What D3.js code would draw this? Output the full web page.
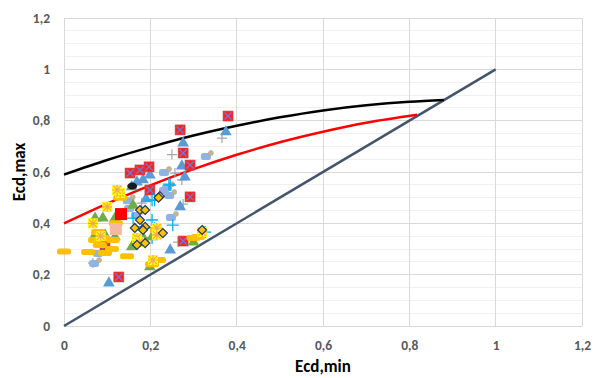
<!DOCTYPE html>
<html><head><meta charset="utf-8">
<script src="https://cdn.jsdelivr.net/npm/d3@7"></script>
<style>body{margin:0;background:#fff}svg{display:block}text{font-family:Carlito,Lato,"Liberation Sans",sans-serif}</style>
</head><body><div id="chart"></div>
<script>
// ---- data ----
const xTicks = [0, 0.2, 0.4, 0.6, 0.8, 1, 1.2];
const yTicks = [0, 0.2, 0.4, 0.6, 0.8, 1, 1.2];
const xTitle = "Ecd,min", yTitle = "Ecd,max";
const blackCurve = [[0,0.590],[0.1,0.647],[0.2,0.697],[0.3,0.742],[0.4,0.780],[0.5,0.813],[0.6,0.840],[0.7,0.860],[0.8,0.874],[0.88,0.881]];
const redCurve = [[0,0.400],[0.1,0.477],[0.2,0.548],[0.3,0.611],[0.4,0.667],[0.5,0.716],[0.6,0.757],[0.7,0.792],[0.818,0.823]];
const diagonal = [[0,0],[1,1]];
const redBoxes = [[0.127,0.191],[0.095,0.31],[0.153,0.596],[0.176,0.608],[0.197,0.62],[0.199,0.53],[0.269,0.764],[0.276,0.674],[0.292,0.627],[0.292,0.503],[0.276,0.331],[0.380,0.818]];
const blueTriangles = [[0.104,0.167],[0.157,0.542],[0.169,0.561],[0.183,0.569],[0.199,0.588],[0.19,0.495],[0.273,0.623],[0.276,0.713],[0.28,0.58],[0.269,0.464],[0.246,0.296],[0.375,0.756]];
const grayPlus = [[0.067,0.245],[0.18,0.479],[0.25,0.668],[0.257,0.596],[0.273,0.569],[0.276,0.475],[0.264,0.327],[0.366,0.732]];
const lightBlobs = [[0.072,0.245],[0.081,0.284],[0.153,0.46],[0.169,0.432],[0.234,0.6],[0.234,0.53],[0.246,0.51],[0.241,0.541],[0.25,0.425],[0.331,0.662],[0.15,0.49]];
const cyanPlus = [[0.16,0.42],[0.18,0.386],[0.204,0.49],[0.21,0.49],[0.204,0.413],[0.21,0.382],[0.204,0.343],[0.243,0.553],[0.246,0.549],[0.252,0.393],[0.327,0.366]];
const goldDiamonds = [[0.222,0.506],[0.219,0.5],[0.176,0.452],[0.188,0.452],[0.176,0.413],[0.188,0.386],[0.164,0.382],[0.183,0.374],[0.229,0.362],[0.188,0.323],[0.169,0.316],[0.32,0.374]];
const yellowStars = [[0.067,0.4],[0.1,0.464],[0.13,0.518],[0.123,0.53],[0.169,0.343],[0.174,0.327],[0.215,0.382],[0.215,0.355],[0.206,0.257],[0.32,0.366],[0.085,0.35]];
const greenTriangles = [[0.072,0.354],[0.095,0.354],[0.118,0.347],[0.072,0.42],[0.09,0.42],[0.118,0.42],[0.12,0.382],[0.16,0.47],[0.204,0.347],[0.199,0.23],[0.3,0.327],[0.157,0.308],[0.185,0.34]];
const goldDashes = [[0.0,0.29],[0.056,0.288],[0.072,0.335],[0.09,0.343],[0.083,0.316],[0.095,0.284],[0.111,0.3],[0.113,0.335],[0.146,0.272],[0.079,0.366],[0.204,0.241],[0.22,0.257],[0.3,0.343],[0.31,0.347],[0.13,0.50],[0.12,0.4],[0.215,0.373]];
const bigRed = [[0.132,0.436]];
const bigPink = [[0.12,0.378]];
const blackBlob = [[0.158,0.545]];

// ---- chart ----
const W = 596, H = 378;
const svg = d3.select("#chart").append("svg").attr("width", W).attr("height", H);
const x = d3.scaleLinear().domain([0, 1.2]).range([64, 582]);
const y = d3.scaleLinear().domain([0, 1.2]).range([326, 18]);
const fmt = d => d3.format("")(d).replace(".", ",");

// minor horizontal gridlines
svg.append("g").selectAll("line").data(d3.range(0, 1.2001, 0.05).filter((d,i) => i % 4 !== 0))
  .join("line").attr("x1", x(0)).attr("x2", x(1.2)).attr("y1", d => y(d)).attr("y2", d => y(d))
  .attr("stroke", "#f0f0f0").attr("stroke-width", 1).attr("shape-rendering", "crispEdges");
// major
svg.append("g").selectAll("line").data(yTicks).join("line")
  .attr("x1", x(0)).attr("x2", x(1.2)).attr("y1", d => y(d)).attr("y2", d => y(d))
  .attr("stroke", "#d9d9d9").attr("shape-rendering", "crispEdges");
svg.append("g").selectAll("line").data(xTicks).join("line")
  .attr("x1", d => x(d)).attr("x2", d => x(d)).attr("y1", y(0)).attr("y2", y(1.2))
  .attr("stroke", "#d9d9d9").attr("shape-rendering", "crispEdges");

// axes
const xAxis = svg.append("g").attr("transform", `translate(0,${y(0)})`)
  .call(d3.axisBottom(x).tickValues(xTicks).tickFormat(fmt).tickSize(0).tickPadding(14));
const yAxis = svg.append("g").attr("transform", `translate(${x(0)},0)`)
  .call(d3.axisLeft(y).tickValues(yTicks).tickFormat(fmt).tickSize(0).tickPadding(14));
[xAxis, yAxis].forEach(a => {
  a.select(".domain").attr("stroke", "#d9d9d9");
  a.selectAll("text").attr("fill", "#595959").attr("font-size", 13.5).attr("font-weight", 900);
});
svg.append("text").attr("x", 323).attr("y", 372).attr("text-anchor", "middle")
  .attr("font-size", 17).attr("font-weight", 900).attr("fill", "#000").text(xTitle);
svg.append("text").attr("transform", "translate(25,172) rotate(-90)").attr("text-anchor", "middle")
  .attr("font-size", 17).attr("font-weight", 900).attr("fill", "#000").text(yTitle);

// lines
const line = d3.line().x(d => x(d[0])).y(d => y(d[1])).curve(d3.curveMonotoneX);
svg.append("path").datum(diagonal).attr("d", line).attr("fill", "none").attr("stroke", "#44546a").attr("stroke-width", 2.5);
svg.append("path").datum(blackCurve).attr("d", line).attr("fill", "none").attr("stroke", "#000").attr("stroke-width", 2.5);
svg.append("path").datum(redCurve).attr("d", line).attr("fill", "none").attr("stroke", "#ff0000").attr("stroke-width", 2.5);

const g = svg.append("g");
const tr = d => `translate(${x(d[0])},${y(d[1])})`;
const sym = (type, size) => d3.symbol().type(type).size(size)();

// gray plus
g.append("g").selectAll("path").data(grayPlus).join("path").attr("transform", tr)
  .attr("d", "M-5,0H5M0,-5V5").attr("stroke", "#a6a6a6").attr("stroke-width", 1.2);
// light blue blobs
const blob = g.append("g").selectAll("g").data(lightBlobs).join("g").attr("transform", tr);
blob.append("rect").attr("x", -6).attr("y", -3).attr("width", 10).attr("height", 7).attr("rx", 2.5).attr("fill", "#8fb4e3");
blob.append("circle").attr("cx", 4).attr("cy", -3).attr("r", 2.5).attr("fill", "#c8b48c").attr("stroke", "#a9a9a9").attr("stroke-width", 0.6);
// blue triangles
g.append("g").selectAll("path").data(blueTriangles).join("path").attr("transform", tr)
  .attr("d", sym(d3.symbolTriangle, 60)).attr("fill", "#5b9bd5");
// red boxes
const rb = g.append("g").selectAll("g").data(redBoxes).join("g").attr("transform", tr);
rb.append("rect").attr("x", -5).attr("y", -5).attr("width", 10).attr("height", 10).attr("fill", "#ff2020").attr("stroke", "#c0504d").attr("stroke-width", 0.6);
rb.append("path").attr("d", "M-3.5,-3.5L3.5,3.5M3.5,-3.5L-3.5,3.5").attr("stroke", "#6b7be0").attr("stroke-width", 1.3);
// cyan plus
g.append("g").selectAll("path").data(cyanPlus).join("path").attr("transform", tr)
  .attr("d", "M-6,0H6M0,-6V6").attr("stroke", "#00b0f0").attr("stroke-width", 1.3);
// green triangles
g.append("g").selectAll("path").data(greenTriangles).join("path").attr("transform", tr)
  .attr("d", sym(d3.symbolTriangle, 60)).attr("fill", "#70ad47");
// gold dashes
g.append("g").selectAll("rect").data(goldDashes).join("rect").attr("transform", tr)
  .attr("x", -7).attr("y", -3).attr("width", 14).attr("height", 6).attr("rx", 2.5).attr("fill", "#ffc000");
// yellow stars
const ys = g.append("g").selectAll("g").data(yellowStars).join("g").attr("transform", tr);
ys.append("rect").attr("x", -5).attr("y", -5).attr("width", 10).attr("height", 10).attr("fill", "#ffff00");
ys.append("path").attr("d", "M-4,-4L4,4M4,-4L-4,4M0,-5V5M-5,0H5").attr("stroke", "#f4a460").attr("stroke-width", 1.1);
// gold diamonds
g.append("g").selectAll("path").data(goldDiamonds).join("path").attr("transform", tr)
  .attr("d", "M0,-4.5L4.5,0L0,4.5L-4.5,0Z").attr("fill", "#ffc000").attr("stroke", "#1f3864").attr("stroke-width", 1.2);
// big squares
g.append("g").selectAll("rect").data(bigPink).join("rect").attr("transform", tr)
  .attr("x", -6).attr("y", -6).attr("width", 12).attr("height", 12).attr("fill", "#f4b9a4");
g.append("g").selectAll("rect").data(bigRed).join("rect").attr("transform", tr)
  .attr("x", -6).attr("y", -6).attr("width", 12).attr("height", 12).attr("fill", "#ff0000");
// black blob
g.append("g").selectAll("ellipse").data(blackBlob).join("ellipse").attr("transform", tr)
  .attr("rx", 5).attr("ry", 3.5).attr("fill", "#1a1a1a");
</script></body></html>
